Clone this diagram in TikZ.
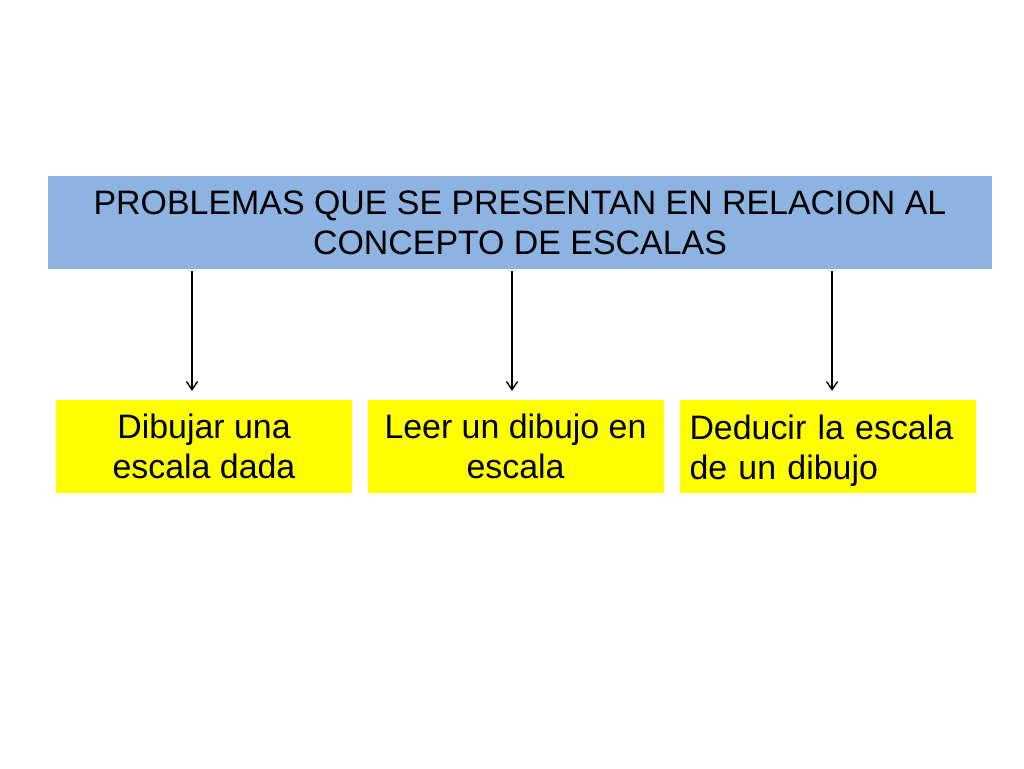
\documentclass[tikz,border=0pt]{standalone}
\usepackage{fontspec}
\setmainfont{Liberation Sans}
\usetikzlibrary{arrows.meta}
\definecolor{titleblue}{HTML}{8DB3E2}
\definecolor{boxyellow}{HTML}{FFFF00}
\tikzset{
  titlebox/.style={fill=titleblue, draw=none, minimum width=944pt, minimum height=93pt, inner sep=0pt,
    align=center, font=\fontsize{33.9}{40}\selectfont},
  itembox/.style={fill=boxyellow, draw=none, minimum width=296pt, minimum height=93pt, inner sep=0pt,
    font=\fontsize{33.9}{40}\selectfont},
  itemtext/.style={inner sep=0pt, font=\fontsize{33.9}{40}\selectfont},
  arr/.style={-{Straight Barb[length=8pt,width=11pt]}, line width=1.4pt, black}
}
\begin{document}
\begin{tikzpicture}[x=1pt,y=-1pt]
\useasboundingbox (0,0) rectangle (1024,768);
\fill[white] (0,0) rectangle (1024,768);
\node[titlebox] (title) at (520,222.5) {PROBLEMAS QUE SE PRESENTAN EN RELACION AL\\CONCEPTO DE ESCALAS};
\node[itembox, align=center] (b1) at (204,446.5) {Dibujar una\\escala dada};
\node[itembox, align=center] (b2) at (515.5,446.5) {Leer un dibujo en\\escala};
\node[itembox] (b3) at (827.5,446.5) {};
\node[itemtext, text width=276pt, align=left] (b3t) at ([yshift=-4pt]b3.center) {Deducir la escala\\de un dibujo};
\coordinate (x1) at (192,0);
\coordinate (x2) at (512,0);
\coordinate (x3) at (832,0);
\draw[arr] ([yshift=-2pt]title.south -| x1) -- ([yshift=9pt]b1.north -| x1);
\draw[arr] ([yshift=-2pt]title.south -| x2) -- ([yshift=9pt]b2.north -| x2);
\draw[arr] ([yshift=-2pt]title.south -| x3) -- ([yshift=9pt]b3.north -| x3);
\end{tikzpicture}
\end{document}
